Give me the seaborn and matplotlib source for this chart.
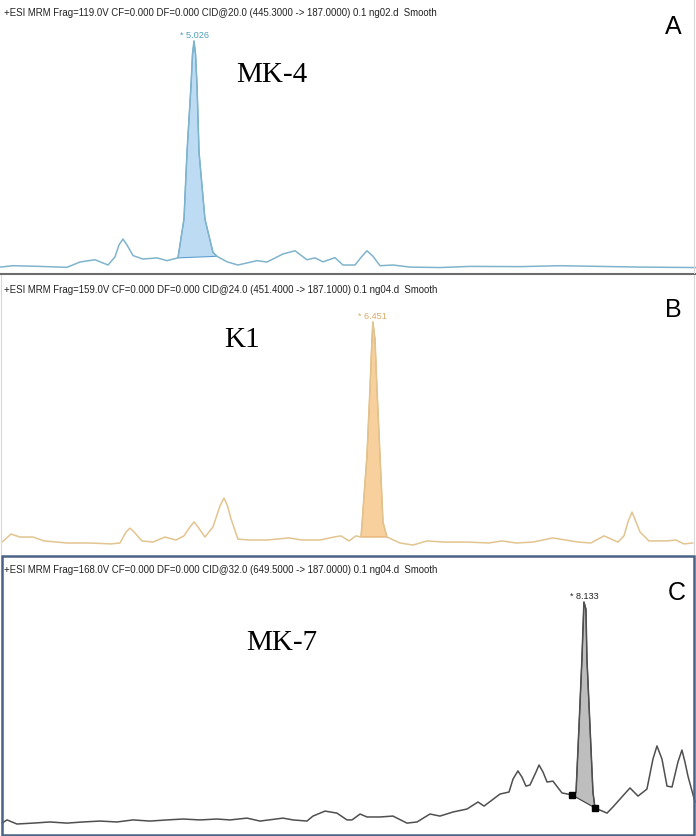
import numpy as np
import matplotlib.pyplot as plt
import seaborn as sns
from matplotlib.patches import Rectangle
from matplotlib.lines import Line2D

sns.set_theme(style="white")
plt.rcParams['font.family'] = ['Liberation Sans', 'DejaVu Sans']

# retention time (min) and relative response (%) for each MRM trace
time_a = [3.480, 3.584, 3.799, 4.014, 4.117, 4.237, 4.341, 4.396, 4.428, 4.460,
          4.492, 4.540, 4.619, 4.731, 4.811, 4.898, 4.946, 4.970, 5.002, 5.014,
          5.026, 5.038, 5.050, 5.066, 5.113, 5.177, 5.209, 5.289, 5.376, 5.528,
          5.607, 5.735, 5.831, 5.926, 5.990, 6.054, 6.149, 6.213, 6.309, 6.364,
          6.404, 6.452, 6.508, 6.611, 6.747, 6.986, 7.225, 7.623, 7.942, 8.261,
          8.580, 9.026]
resp_a = [1.7, 2.3, 2.0, 1.6, 3.9, 4.9, 2.6, 6.1, 11.3, 13.9,
          11.3, 6.7, 5.2, 5.7, 4.5, 5.7, 22.6, 51.6, 80.6, 94.3,
          100.0, 94.3, 80.6, 51.6, 22.6, 8.1, 6.4, 4.0, 2.6, 4.5,
          3.9, 7.4, 8.8, 4.9, 5.7, 4.0, 5.8, 2.6, 2.6, 6.4,
          8.8, 6.4, 2.3, 2.6, 1.7, 1.5, 2.0, 1.9, 2.3, 2.0,
          1.7, 1.5]

time_b = [3.496, 3.568, 3.639, 3.743, 3.831, 4.014, 4.189, 4.364, 4.436, 4.484,
          4.516, 4.548, 4.611, 4.699, 4.795, 4.882, 4.946, 4.994, 5.026, 5.058,
          5.113, 5.177, 5.233, 5.265, 5.293, 5.321, 5.376, 5.464, 5.607, 5.783,
          5.886, 6.030, 6.141, 6.197, 6.261, 6.317, 6.357, 6.404, 6.428, 6.444,
          6.451, 6.468, 6.484, 6.508, 6.532, 6.564, 6.667, 6.771, 6.882, 7.018,
          7.201, 7.376, 7.480, 7.592, 7.727, 7.886, 8.086, 8.189, 8.293, 8.404,
          8.452, 8.484, 8.516, 8.548, 8.580, 8.651, 8.795, 8.866, 8.930, 9.002]
resp_b = [3.9, 7.4, 6.1, 6.1, 4.4, 3.5, 3.5, 3.1, 3.5, 8.3,
          10.0, 8.3, 4.4, 3.9, 6.1, 4.8, 6.6, 10.5, 12.7, 10.5,
          6.1, 10.5, 19.7, 23.1, 19.7, 14.0, 5.2, 4.8, 4.8, 5.7,
          4.8, 4.8, 6.1, 6.6, 4.4, 6.6, 6.1, 41.6, 70.7, 92.6,
          100.0, 92.6, 70.7, 41.6, 12.5, 6.1, 3.5, 2.6, 4.4, 3.9,
          3.9, 3.5, 4.4, 3.5, 3.9, 5.7, 3.9, 3.5, 6.6, 3.9,
          6.6, 12.7, 17.0, 12.7, 8.3, 4.4, 4.4, 4.8, 3.1, 3.5]

time_c = [3.496, 3.536, 3.615, 3.743, 3.878, 4.014, 4.141, 4.277, 4.412, 4.540,
          4.675, 4.811, 4.938, 5.074, 5.209, 5.313, 5.448, 5.552, 5.735, 5.815,
          5.926, 5.974, 6.070, 6.165, 6.245, 6.285, 6.349, 6.404, 6.508, 6.611,
          6.723, 6.803, 6.906, 6.986, 7.090, 7.201, 7.289, 7.337, 7.464, 7.536,
          7.568, 7.607, 7.639, 7.671, 7.703, 7.751, 7.775, 7.807, 7.839, 7.886,
          7.958, 8.038, 8.070, 8.094, 8.117, 8.133, 8.149, 8.157, 8.181, 8.205,
          8.221, 8.317, 8.364, 8.500, 8.564, 8.635, 8.683, 8.715, 8.755, 8.795,
          8.835, 8.882, 8.914, 8.938, 8.962, 9.018]
resp_c = [2.6, 4.0, 2.2, 2.6, 3.1, 2.6, 3.1, 3.5, 3.1, 4.0,
          3.5, 4.0, 4.4, 4.0, 4.4, 4.0, 4.8, 3.5, 4.8, 4.0,
          3.5, 5.7, 7.9, 7.0, 4.0, 4.0, 6.6, 5.3, 5.3, 5.7,
          2.6, 3.1, 6.6, 5.7, 7.5, 8.8, 11.9, 10.1, 15.4, 16.3,
          22.0, 25.6, 22.9, 18.9, 19.4, 25.1, 28.2, 25.1, 20.7, 21.1,
          15.9, 15.0, 16.2, 45.5, 74.9, 100.0, 96.9, 74.9, 45.5, 16.2,
          9.3, 7.0, 9.7, 18.1, 14.5, 17.6, 30.8, 36.6, 30.8, 18.9,
          18.5, 29.5, 34.8, 29.5, 23.3, 11.9]

# integration windows (min) and peak labels
peak_a = (4.898, 5.209)
peak_b = (6.357, 6.564)
peak_c = (8.038, 8.221)
rt_labels = ["* 5.026", "* 6.451", "* 8.133"]
compounds = ["MK-4", "K1", "MK-7"]
panel_ids = ["A", "B", "C"]
headers = [
    "+ESI MRM Frag=119.0V CF=0.000 DF=0.000 CID@20.0 (445.3000 -> 187.0000) 0.1 ng02.d  Smooth",
    "+ESI MRM Frag=159.0V CF=0.000 DF=0.000 CID@24.0 (451.4000 -> 187.1000) 0.1 ng04.d  Smooth",
    "+ESI MRM Frag=168.0V CF=0.000 DF=0.000 CID@32.0 (649.5000 -> 187.0000) 0.1 ng04.d  Smooth",
]

W, H = 696, 837
fig = plt.figure(figsize=(W / 100, H / 100), dpi=100)
fig.patch.set_facecolor("white")

panels = [
    dict(t=time_a, r=resp_a, win=peak_a, box=(0, 274), ylim=(-0.87, 118.3),
         line="#7fb4cc", fill="#bddcf4", edge="#5f9fcf", lab="#4e9fbf",
         hdr_y=13, comp_xy=(272, 75), id_xy=(673, 27)),
    dict(t=time_b, r=resp_b, win=peak_b, box=(276, 555), ylim=(-1.31, 120.5),
         line="#e2c48f", fill="#f8d09d", edge="#e2aa66", lab="#d9ad6a",
         hdr_y=290, comp_xy=(242, 340), id_xy=(673, 310)),
    dict(t=time_c, r=resp_c, win=peak_c, box=(557, 835), ylim=(-2.2, 120.3),
         line="#4f4f4f", fill="#bebebe", edge="#3a3a3a", lab="#222222",
         hdr_y=570, comp_xy=(282, 643), id_xy=(677, 593)),
]

for i, p in enumerate(panels):
    top, bot = p["box"]
    ax = fig.add_axes([0, (H - bot) / H, 1, (bot - top) / H])
    ax.set_xlim(3.48, 9.026)
    ax.set_ylim(*p["ylim"])
    ax.axis("off")

    t = np.array(p["t"])
    r = np.array(p["r"])
    sel = (t >= p["win"][0]) & (t <= p["win"][1])
    ax.fill(t[sel], r[sel], facecolor=p["fill"], edgecolor=p["edge"], lw=0.8,
            joinstyle="round", zorder=2)
    sns.lineplot(x=t, y=r, ax=ax, color=p["line"], lw=1.1, sort=False,
                 estimator=None, solid_joinstyle="round", zorder=3)
    if i == 2:
        ax.plot([t[sel][0], t[sel][-1]], [r[sel][0], r[sel][-1]], "s",
                color="black", ms=4.5, zorder=4)

    k = int(np.argmax(r))
    ax.annotate(rt_labels[i], (t[k], r[k]), xytext=(0, 1.5), textcoords="offset points",
                ha="center", va="bottom", fontsize=6.6, color=p["lab"])

    fig.text(4 / W, 1 - p["hdr_y"] / H, headers[i], fontsize=6.9, color="#222222",
             ha="left", va="center")
    cx, cy = p["comp_xy"]
    fig.text(cx / W, 1 - cy / H, compounds[i], fontsize=21, color="black",
             ha="center", va="center", family="Liberation Serif")
    ix, iy = p["id_xy"]
    fig.text(ix / W, 1 - iy / H, panel_ids[i], fontsize=18, color="black",
             ha="center", va="center")

# panel frames
fig.add_artist(Line2D([0, 1], [1 - 275 / H, 1 - 275 / H], color="#6c6c6c", lw=1.5))
fig.add_artist(Line2D([694 / W, 694 / W], [1 - 274 / H, 1], color="#d8d8d8", lw=0.8))
fig.add_artist(Line2D([694 / W, 694 / W], [1 - 555 / H, 1 - 276 / H], color="#d8d8d8", lw=0.8))
fig.add_artist(Line2D([1 / W, 1 / W], [1 - 555 / H, 1 - 276 / H], color="#d8d8d8", lw=0.8))
fig.add_artist(Rectangle((1.5 / W, 1.5 / H), 692.5 / W, (835 - 556) / H,
                         transform=fig.transFigure, fill=False,
                         edgecolor="#4a6285", lw=1.8))

fig.savefig("out.png", dpi=100)
